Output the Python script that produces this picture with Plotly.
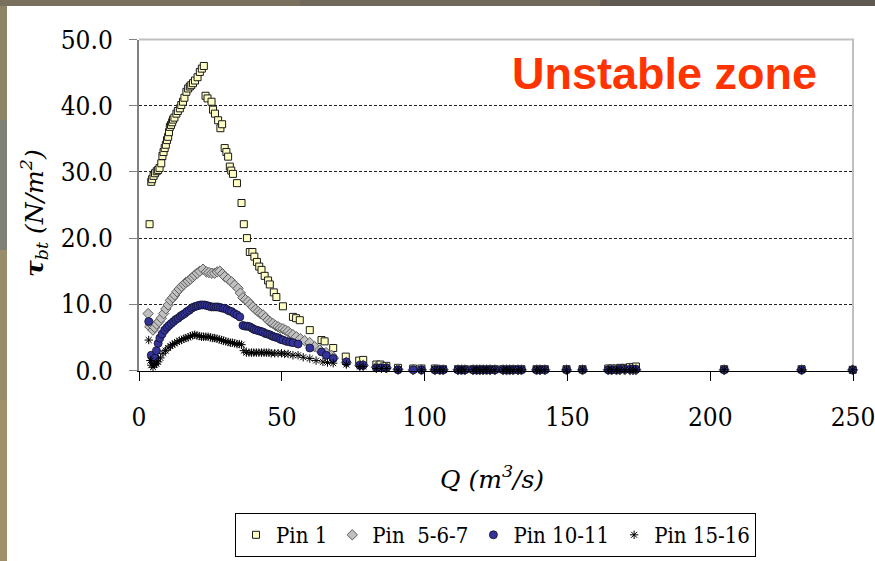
import plotly.graph_objects as go

# ---- data: discharge Q (m3/s) and bed shear stress tau_bt (N/m2) per pin ----
q_pin1 = [3.7, 4.3, 4.6, 5.1, 5.6, 6.2, 6.7, 7.2, 7.8, 8.2, 8.6, 9.0, 9.4, 9.8, 10.2,
          10.5, 10.8, 11.2, 11.6, 11.9, 12.4, 13.1, 13.6, 14.3, 14.8, 15.4, 15.9, 16.6,
          17.2, 17.8, 18.3, 18.9, 19.6, 20.5, 21.3, 22.0, 22.7,
          23.3, 24.0, 25.4, 25.9, 26.6, 27.7, 28.5, 29.1, 30.0, 30.6, 31.2, 31.8, 32.3,
          32.9, 34.3, 35.9, 36.7, 37.8, 38.8, 39.7, 40.4, 41.3, 42.1, 42.9, 44.0, 45.2,
          45.8, 47.2, 48.1, 50.4, 53.9, 55.0, 56.3, 59.8, 63.9, 65.0, 68.0, 72.4, 77.1,
          78.5, 83.1, 84.5, 86.6, 90.7, 96.0]
tau_pin1 = [22.1, 28.5, 28.9, 29.4, 29.8, 30.1, 30.3, 30.6, 31.3, 32.4, 33.0, 33.6, 34.1,
            34.8, 35.3, 36.0, 36.8, 37.1, 37.5, 37.9, 38.2, 38.8, 39.2, 39.6, 40.1, 40.6,
            41.2, 42.1, 42.6, 42.9, 43.1, 43.4, 43.8, 44.3, 45.1, 45.6, 46.0,
            41.5, 41.1, 40.6, 39.4, 38.8, 37.8, 36.6, 37.2, 33.6, 33.0, 32.3, 30.8, 30.2,
            29.7, 28.3, 25.3, 22.1, 20.0, 17.9, 17.9, 17.2, 16.4, 15.7, 15.2, 14.3, 13.6,
            13.0, 11.8, 11.1, 9.7, 8.1, 7.9, 7.6, 6.1, 4.6, 4.4, 3.4, 2.1, 1.5,
            1.6, 0.9, 0.9, 0.7, 0.4, 0.3]

q_pin567 = [3.2, 3.8, 4.3, 4.9, 5.5, 6.2, 7.0, 7.8, 8.6, 9.4, 10.2, 11.0, 11.8, 12.5, 13.3,
            14.1, 14.9, 15.7, 16.4, 17.2, 18.0, 18.8, 19.5, 20.4, 21.3, 22.4, 23.6, 24.5,
            25.5, 26.5, 27.4, 28.3, 29.2, 30.0, 31.2, 32.4, 33.5, 34.7, 35.5, 36.4, 37.3,
            38.2, 39.0, 39.9, 40.8, 41.7, 42.5, 43.4, 44.3, 45.2, 46.0, 46.9, 47.8, 48.7,
            49.5, 50.4, 51.3, 52.2, 53.0, 53.9, 55.1, 56.5, 58.0, 59.8, 61.5, 63.3, 65.5,
            67.4, 68.1, 72.6, 77.3, 78.5, 83.1, 84.9, 86.6, 90.7, 96.0]
tau_pin567 = [8.6, 6.6, 7.0, 6.1, 6.5, 7.0, 7.4, 7.9, 8.6, 9.3, 9.9, 10.6, 11.0, 11.4, 11.9,
              12.3, 12.7, 13.0, 13.3, 13.5, 13.8, 14.1, 14.4, 14.7, 15.0, 15.3, 14.9, 14.8,
              14.7, 14.7, 14.9, 15.0, 14.6, 14.2, 13.8, 13.4, 12.9, 12.4, 11.7, 11.0, 10.7,
              10.4, 10.0, 9.6, 9.2, 8.9, 8.6, 8.4, 8.0, 7.6, 7.3, 7.1, 6.8, 6.6,
              6.4, 6.3, 6.1, 5.9, 5.6, 5.4, 5.1, 4.8, 4.5, 4.2, 3.6, 3.1, 2.7,
              2.3, 1.9, 1.2, 0.8, 0.8, 0.5, 0.5, 0.4, 0.2, 0.1]

q_pin1011 = [3.4, 4.3, 4.9, 5.3, 5.7, 6.1, 6.7, 7.3, 8.1, 9.0, 9.8, 10.5, 11.3, 12.1, 12.9,
             13.7, 14.5, 15.2, 16.0, 16.8, 17.6, 18.4, 19.2, 20.0, 20.7, 21.5, 22.2, 23.0,
             23.8, 24.6, 25.4, 26.2, 27.0, 27.7, 28.5, 29.3, 30.0, 30.8, 31.6, 32.4, 33.4,
             34.3, 35.3, 36.4, 37.2, 38.0, 38.8, 39.6, 40.3, 41.1, 41.9, 42.7, 43.4, 44.2,
             45.0, 45.8, 46.6, 47.3, 48.1, 48.9, 49.6, 50.4, 51.6, 52.8, 53.9, 55.7, 59.8,
             63.9, 65.6, 68.0, 72.6, 77.3, 78.5, 83.1, 84.9, 86.6, 90.7, 96.0]
tau_pin1011 = [7.4, 2.3, 1.5, 1.2, 1.9, 3.0, 4.1, 4.9, 5.5, 6.1, 6.5, 6.8, 7.1, 7.4, 7.7,
               7.9, 8.2, 8.4, 8.6, 8.9, 9.1, 9.4, 9.6, 9.7, 9.8, 9.9, 9.9, 9.9,
               9.8, 9.7, 9.6, 9.6, 9.6, 9.6, 9.5, 9.4, 9.4, 9.2, 9.0, 8.9, 8.6,
               8.4, 8.1, 6.8, 6.7, 6.7, 6.6, 6.4, 6.2, 6.1, 6.0, 5.9, 5.8, 5.6,
               5.5, 5.4, 5.2, 5.1, 5.0, 4.9, 4.7, 4.6, 4.4, 4.3, 4.2, 4.0, 3.4,
               2.8, 2.3, 1.8, 1.3, 0.8, 0.8, 0.4, 0.4, 0.4, 0.1, 0.1]

q_pin1516 = [3.4, 4.0, 4.3, 4.9, 5.5, 6.1, 6.7, 7.5, 8.4, 9.3, 10.2, 11.0, 11.7, 12.5, 13.3,
             14.1, 14.9, 15.7, 16.4, 17.2, 18.0, 18.8, 19.5, 20.3, 21.1, 21.9, 22.6, 23.4,
             24.2, 25.0, 25.8, 26.5, 27.3, 28.1, 28.9, 29.6, 30.4, 31.2, 32.0, 32.7, 33.5,
             34.3, 35.1, 35.9, 36.7, 37.6, 38.5, 39.4, 40.2, 41.1, 42.0, 42.9, 43.8, 44.6,
             45.5, 46.3, 47.5, 48.7, 49.9, 51.0, 52.2, 53.9, 55.7, 57.5, 59.8, 62.0, 64.4,
             66.0, 68.0, 72.6, 77.3, 78.5, 83.1, 84.9, 86.6, 90.7]
tau_pin1516 = [4.6, 1.5, 0.8, 0.5, 0.9, 1.0, 1.3, 1.9, 2.6, 3.0, 3.4, 3.7, 3.9, 4.1, 4.3,
               4.5, 4.6, 4.8, 4.9, 5.0, 5.2, 5.3, 5.4, 5.3, 5.2, 5.1, 5.1, 5.1,
               5.1, 5.0, 4.9, 4.9, 4.8, 4.7, 4.6, 4.5, 4.4, 4.3, 4.2, 4.2, 4.1,
               4.0, 4.0, 3.9, 3.0, 2.7, 2.7, 2.7, 2.7, 2.7, 2.7, 2.7, 2.7, 2.7,
               2.7, 2.6, 2.6, 2.6, 2.6, 2.5, 2.5, 2.3, 2.3, 2.0, 1.8, 1.5, 1.3,
               1.2, 1.1, 0.9, 0.6, 0.6, 0.3, 0.3, 0.3, 0.1]

# high-discharge records, shared by all pins
q_tail = [98.9, 103.6, 105.3, 106.5, 111.7, 112.9, 114.1, 117.0, 118.2, 119.3, 120.5,
          121.7, 122.9, 124.6, 127.5, 128.7, 129.8, 131.0, 132.7, 133.9, 139.2, 140.4,
          142.1, 149.7, 155.3, 164.3, 165.5, 167.2, 168.4, 170.1, 171.9, 173.0, 174.0,
          204.9, 232.0, 249.9]
tau_tail_pin1 = [0.3, 0.3, 0.2, 0.2, 0.2, 0.2, 0.2, 0.2, 0.2, 0.2, 0.2,
                 0.2, 0.2, 0.2, 0.2, 0.2, 0.2, 0.2, 0.2, 0.2, 0.2, 0.2,
                 0.2, 0.2, 0.2, 0.3, 0.3, 0.3, 0.4, 0.4, 0.5, 0.5, 0.6,
                 0.2, 0.2, 0.1]
tau_tail_pin567 = [0.1] * 36
tau_tail_pin1011 = [0.1, 0.1, 0.1, 0.1, 0.1, 0.1, 0.1, 0.1, 0.1, 0.1, 0.1,
                    0.1, 0.1, 0.1, 0.1, 0.1, 0.1, 0.1, 0.1, 0.1, 0.1, 0.1,
                    0.1, 0.1, 0.1, 0.1, 0.1, 0.1, 0.2, 0.2, 0.2, 0.2, 0.2,
                    0.1, 0.1, 0.1]
tau_tail_pin1516 = [0.1] * 36

series_names = ["Pin 1", "Pin  5-6-7", "Pin 10-11", "Pin 15-16"]
x_ticks = [0, 50, 100, 150, 200, 250]
y_ticks = [0, 10, 20, 30, 40, 50]

# ---- figure geometry: paper spans the whole figure (zero margins) ----
W, H = 875, 561
PLOT_L, PLOT_R, PLOT_T, PLOT_B = 139, 853, 39.5, 370.5


def fx(px):
    return px / W


def fy(py):
    return 1 - py / H


SANS = "Liberation Sans"
SERIF = "DejaVu Serif Condensed"
SERIF_IT = "DejaVu Serif"

styles = [
    dict(symbol="square", size=7, color="#FFFFC4", line=dict(color="#1a1a1a", width=1)),
    dict(symbol="diamond", size=8, color="#C0C0C0", line=dict(color="#5e5e5e", width=1)),
    dict(symbol="circle", size=8, color="#333399", line=dict(color="#10102a", width=0.8)),
    dict(symbol="asterisk-open", size=7, color="#000000", line=dict(color="#000000", width=1)),
]

xs = [q_pin1 + q_tail, q_pin567 + q_tail, q_pin1011 + q_tail, q_pin1516 + q_tail]
ys = [tau_pin1 + tau_tail_pin1, tau_pin567 + tau_tail_pin567,
      tau_pin1011 + tau_tail_pin1011, tau_pin1516 + tau_tail_pin1516]

fig = go.Figure()
for name, x, y, st in zip(series_names, xs, ys, styles):
    fig.add_trace(go.Scatter(x=x, y=y, mode="markers", name=name, marker=st,
                             cliponaxis=False))

shapes = []
# textured frame strips around the white card (top and left)
left_bands = [(0, 120, "#8e8466"), (120, 250, "#7f8177"), (250, 400, "#988c6a"), (400, 561, "#a08f68")]
for y0, y1, c in left_bands:
    shapes.append(dict(type="rect", xref="paper", yref="paper", layer="below",
                       x0=fx(0), x1=fx(7), y0=fy(y1), y1=fy(y0),
                       line=dict(width=0), fillcolor=c))
top_bands = [(0, 300, "#7a705e"), (300, 600, "#6f685b"), (600, 875, "#5f5952")]
for x0, x1, c in top_bands:
    shapes.append(dict(type="rect", xref="paper", yref="paper", layer="below",
                       x0=fx(x0), x1=fx(x1), y0=fy(6), y1=fy(0),
                       line=dict(width=0), fillcolor=c))
# light grey plot frame (top and right)
shapes.append(dict(type="path", xref="paper", yref="paper", layer="between",
                   path="M {0},{1} L {2},{1} L {2},{3}".format(
                       fx(PLOT_L), fy(PLOT_T), fx(PLOT_R), fy(PLOT_B)),
                   line=dict(color="#C0C0C0", width=2)))

annotations = [
    dict(text="<b>Unstable zone</b>", xref="paper", yref="paper",
         x=fx(664), y=fy(74), xanchor="center", yanchor="middle", showarrow=False,
         font=dict(family=SANS, size=45, color="#FF3300")),
    dict(text="<i>Q (m<sup>3</sup>/s)</i>", xref="paper", yref="paper",
         x=fx(492), y=fy(477), xanchor="center", yanchor="middle", showarrow=False,
         font=dict(family=SERIF_IT, size=25, color="black")),
    dict(text="<b><i>τ</i></b><i><sub>bt</sub> (N/m<sup>2</sup>)</i>", xref="paper",
         yref="paper", x=fx(34), y=fy(213), xanchor="center", yanchor="middle",
         textangle=-90, showarrow=False,
         font=dict(family=SERIF_IT, size=25, color="black")),
]

fig.update_layout(
    width=W, height=H,
    margin=dict(l=0, r=0, t=0, b=0, pad=0),
    paper_bgcolor="white", plot_bgcolor="rgba(0,0,0,0)",
    shapes=shapes, annotations=annotations,
    showlegend=True,
    legend=dict(orientation="h", x=fx(495.5), xanchor="center",
                y=fy(513), yanchor="top",
                bgcolor="white", bordercolor="black", borderwidth=1,
                font=dict(family=SERIF, size=22, color="black"),
                itemwidth=30, tracegroupgap=0),
)

fig.update_xaxes(
    domain=[fx(PLOT_L), fx(PLOT_R)], automargin=False,
    range=[0, 250], tickvals=x_ticks, ticks="outside", ticklen=9, tickwidth=1,
    tickcolor="black", showline=True, linecolor="black", linewidth=1,
    showgrid=False, zeroline=False, ticklabelstandoff=14,
    ticklabeloverflow="allow",
    tickfont=dict(family=SERIF, size=26, color="black"),
)
fig.update_yaxes(
    domain=[fy(PLOT_B), fy(PLOT_T)], automargin=False,
    range=[0, 50], tickvals=y_ticks, tickformat=".1f", ticks="outside", ticklen=8,
    tickwidth=1, tickcolor="#808080", showline=True, linecolor="#808080", linewidth=2,
    showgrid=True, gridcolor="#222222", gridwidth=1, griddash="3px,2px",
    zeroline=False, ticklabelstandoff=11, ticklabeloverflow="allow",
    tickfont=dict(family=SERIF, size=26, color="black"),
)

fig.write_html("out.html")
